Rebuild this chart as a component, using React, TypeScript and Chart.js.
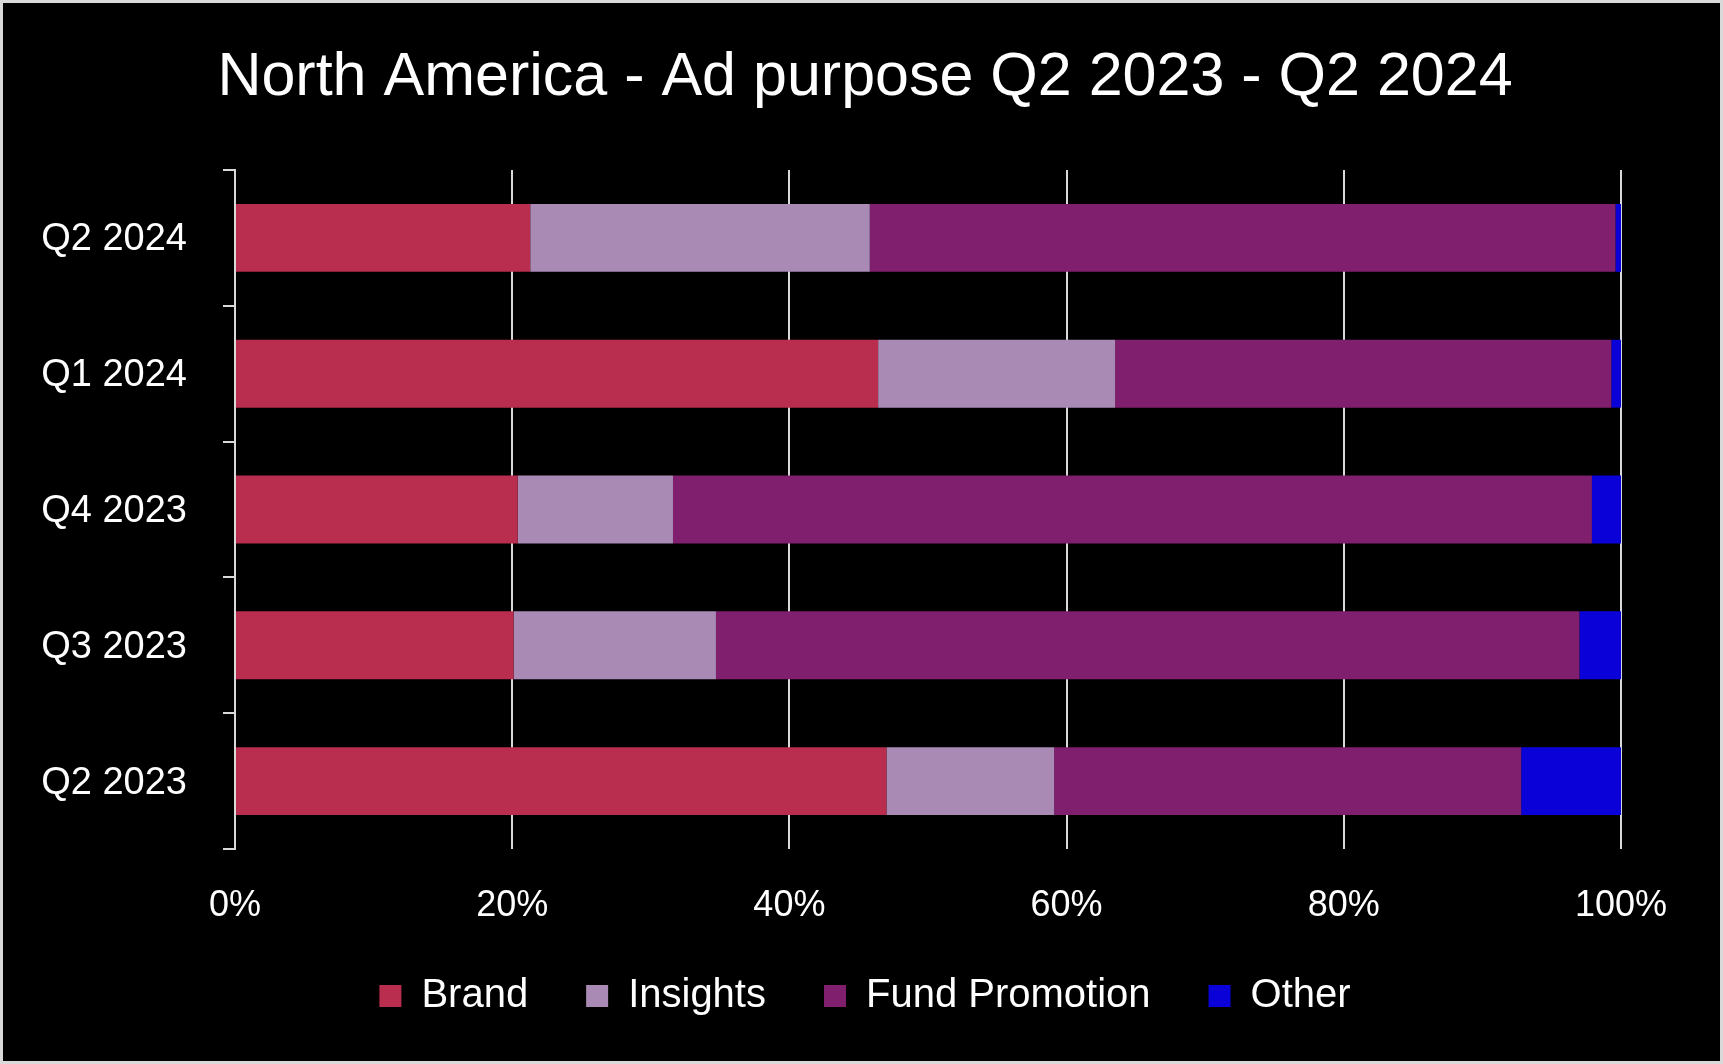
import React, { useEffect, useRef } from "react";
import { Chart, registerables } from "chart.js";

Chart.register(...registerables);

const categories = ["Q2 2024", "Q1 2024", "Q4 2023", "Q3 2023", "Q2 2023"];
const brand = [21.3, 46.4, 20.4, 20.1, 47.0];
const insights = [24.5, 17.1, 11.2, 14.6, 12.1];
const fundPromotion = [53.8, 35.8, 66.3, 62.3, 33.7];
const other = [0.4, 0.7, 2.1, 3.0, 7.2];
const seriesNames = ["Brand", "Insights", "Fund Promotion", "Other"];
const seriesColors = ["#B92D4F", "#A98AB4", "#7F1F6E", "#0A00D8"];
const xTicks = [0, 20, 40, 60, 80, 100];

const FONT = "'Liberation Sans', Arial, sans-serif";

export default function App() {
  const ref = useRef<HTMLCanvasElement | null>(null);

  useEffect(() => {
    if (!ref.current) return;
    const values = [brand, insights, fundPromotion, other];
    const chart = new Chart(ref.current, {
      type: "bar",
      data: {
        labels: categories,
        datasets: seriesNames.map((name, i) => ({
          label: name,
          data: values[i],
          backgroundColor: seriesColors[i],
          borderWidth: 0,
          barPercentage: 0.5,
          categoryPercentage: 1,
        })),
      },
      options: {
        animation: false,
        responsive: true,
        maintainAspectRatio: false,
        indexAxis: "y",
        layout: { padding: { left: 7, right: 0, top: 0, bottom: 35 } },
        plugins: {
          title: {
            display: true,
            text: "North America - Ad purpose Q2 2023 - Q2 2024",
            color: "#ffffff",
            font: { family: FONT, size: 61, weight: "normal", lineHeight: 1.2 },
            padding: { top: 39, bottom: 54.8 },
          },
          legend: {
            display: true,
            position: "bottom",
            labels: {
              color: "#ffffff",
              font: { family: FONT, size: 40 },
              boxWidth: 22,
              boxHeight: 22,
              padding: 58,
            },
          },
          tooltip: { enabled: false },
        },
        scales: {
          x: {
            stacked: true,
            min: 0,
            max: 100,
            afterBuildTicks: (s: any) => {
              s.ticks = xTicks.map((v) => ({ value: v }));
            },
            afterFit: (s: any) => {
              s.height = 69;
            },
            ticks: {
              color: "#ffffff",
              font: { family: FONT, size: 36 },
              padding: 35,
              callback: (v: any) => v + "%",
            },
            grid: {
              color: "#d9d9d9",
              lineWidth: 2,
              drawTicks: false,
            },
            border: { display: false },
          },
          y: {
            stacked: true,
            afterFit: (s: any) => {
              s.width = 225;
            },
            ticks: {
              color: "#ffffff",
              font: { family: FONT, size: 38 },
              padding: 36,
              labelOffset: 2,
            },
            grid: {
              color: "#d9d9d9",
              lineWidth: 2,
              drawOnChartArea: false,
              drawTicks: true,
              tickLength: 12,
              offset: true,
            },
            border: { display: true, color: "#d9d9d9", width: 2 },
          },
          yRightSpace: {
            type: "category",
            labels: categories,
            position: "right",
            display: true,
            afterFit: (s: any) => {
              s.width = 99;
            },
            ticks: { display: false },
            grid: { display: false },
            border: { display: false },
          },
        },
      },
    });
    return () => chart.destroy();
  }, []);

  return (
    <div
      style={{
        position: "absolute",
        left: 0,
        top: 0,
        width: 1723,
        height: 1064,
        boxSizing: "border-box",
        border: "3px solid #d9d9d9",
        background: "#000000",
      }}
    >
      <div style={{ position: "relative", width: 1717, height: 1058 }}>
        <canvas ref={ref} />
      </div>
    </div>
  );
}
